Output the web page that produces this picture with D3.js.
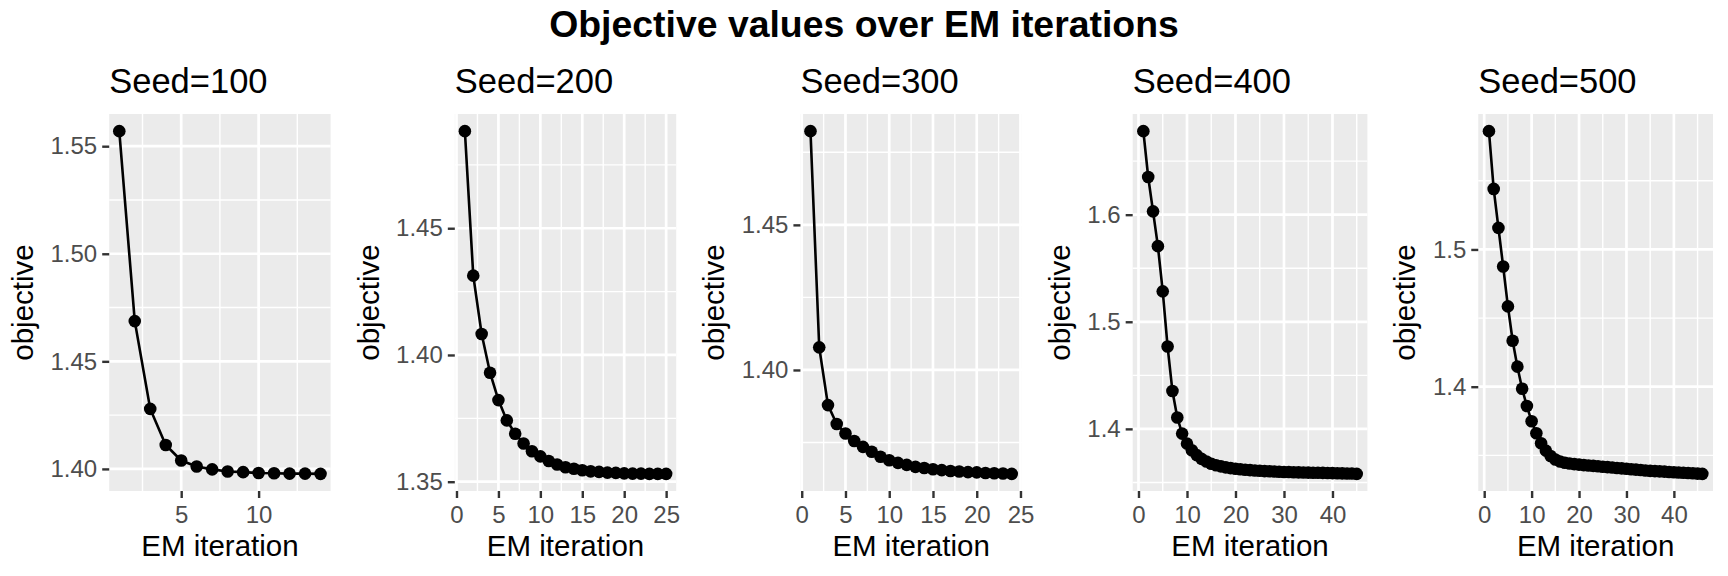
<!DOCTYPE html>
<html>
<head>
<meta charset="utf-8">
<script src="https://cdn.jsdelivr.net/npm/d3@7"></script>
<style>
  body { margin: 0; background: #fff; }
  text { font-family: "Liberation Sans", Arial, Helvetica, sans-serif; }
</style>
</head>
<body>
<script>
// panel titles
const seedTitles = ["Seed=100", "Seed=200", "Seed=300", "Seed=400", "Seed=500"];

// objective per EM iteration (iteration = index + 1)
const obj100 = [1.5570, 1.4687, 1.4279, 1.4111, 1.4039, 1.4011, 1.3998, 1.3988, 1.3985, 1.3981,
  1.3980, 1.3978, 1.3978, 1.3977];
const obj200 = [1.4883, 1.4313, 1.4083, 1.3930, 1.3822, 1.3742, 1.3689, 1.3651, 1.3620, 1.3600,
  1.3582, 1.3568, 1.3557, 1.3551, 1.3545, 1.3541, 1.3539, 1.3536, 1.3535, 1.3533,
  1.3532, 1.3532, 1.3531, 1.3531, 1.3531];
const obj300 = [1.4823, 1.4078, 1.3879, 1.3814, 1.3781, 1.3755, 1.3735, 1.3718, 1.3701, 1.3689,
  1.3680, 1.3673, 1.3666, 1.3662, 1.3658, 1.3655, 1.3652, 1.3650, 1.3648, 1.3647,
  1.3645, 1.3644, 1.3643, 1.3642];
const obj400 = [1.6780, 1.6352, 1.6031, 1.5706, 1.5284, 1.4769, 1.4353, 1.4106, 1.3956, 1.3862,
  1.3800, 1.3755, 1.3720, 1.3695, 1.3675, 1.3660, 1.3650, 1.3641, 1.3634, 1.3628,
  1.3623, 1.3619, 1.3615, 1.3612, 1.3609, 1.3606, 1.3604, 1.3602, 1.3600, 1.3598,
  1.3597, 1.3595, 1.3594, 1.3593, 1.3592, 1.3591, 1.3590, 1.3589, 1.3588, 1.3587,
  1.3586, 1.3585, 1.3584, 1.3584, 1.3580];
const obj500 = [1.5862, 1.5441, 1.5157, 1.4876, 1.4585, 1.4335, 1.4146, 1.3985, 1.3859, 1.3748,
  1.3661, 1.3588, 1.3534, 1.3495, 1.3470, 1.3455, 1.3446, 1.3440, 1.3436, 1.3432,
  1.3429, 1.3426, 1.3423, 1.3420, 1.3417, 1.3414, 1.3411, 1.3408, 1.3405, 1.3402,
  1.3399, 1.3396, 1.3393, 1.3390, 1.3387, 1.3385, 1.3383, 1.3381, 1.3379, 1.3377,
  1.3375, 1.3373, 1.3371, 1.3369, 1.3367, 1.3365];

// tick labels
const xTicks100 = [5, 10];
const xTicks200 = [0, 5, 10, 15, 20, 25];
const xTicks300 = [0, 5, 10, 15, 20, 25];
const xTicks400 = [0, 10, 20, 30, 40];
const xTicks500 = [0, 10, 20, 30, 40];
const yTicks100 = [1.40, 1.45, 1.50, 1.55];
const yTicks200 = [1.35, 1.40, 1.45];
const yTicks300 = [1.40, 1.45];
const yTicks400 = [1.4, 1.5, 1.6];
const yTicks500 = [1.4, 1.5];
const yDigits = [2, 2, 2, 1, 1];

const series = [obj100, obj200, obj300, obj400, obj500];
const xTicksAll = [xTicks100, xTicks200, xTicks300, xTicks400, xTicks500];
const yTicksAll = [yTicks100, yTicks200, yTicks300, yTicks400, yTicks500];

const width = 1728, height = 576;
const cellW = width / 5;
const panelTop = 114, panelBottom = 491;
const tickLen = 7, tickPad = 5;
const tickFont = 24, axisTitleFont = 29.5, panelTitleFont = 34.5, mainFont = 37.4;

const svg = d3.select("body").append("svg")
    .attr("width", width)
    .attr("height", height);

// main title
svg.append("text")
    .attr("x", width / 2)
    .attr("y", 37)
    .attr("text-anchor", "middle")
    .style("font-size", mainFont + "px")
    .style("font-weight", "bold")
    .text("Objective values over EM iterations");

// ggplot-style 5% expansion
function expand(lo, hi) {
    const pad = (hi - lo) * 0.05;
    return [lo - pad, hi + pad];
}

// midpoints between majors (plus one step outside each end), kept inside the domain
function minorBreaks(ticks, domain) {
    const step = ticks.length > 1 ? ticks[1] - ticks[0] : 0.05;
    const out = [];
    for (let v = ticks[0] - step / 2; v <= domain[1]; v += step) {
        if (v >= domain[0]) out.push(v);
    }
    return out;
}

function textWidth(str, size) {
    const t = svg.append("text").style("font-size", size + "px").text(str);
    const w = t.node().getComputedTextLength();
    t.remove();
    return w;
}

series.forEach((vals, i) => {
    const data = vals.map((v, k) => ({ iter: k + 1, value: v }));
    const fmt = d3.format("." + yDigits[i] + "f");
    const yTicks = yTicksAll[i];
    const xTicks = xTicksAll[i];

    const cellLeft = i * cellW;
    const labelW = d3.max(yTicks, t => textWidth(fmt(t), tickFont));
    const left = cellLeft + 50.5 + labelW + tickLen + tickPad;
    const right = cellLeft + cellW - 15;

    const x = d3.scaleLinear()
        .domain(expand(1, data.length))
        .range([left, right]);
    const y = d3.scaleLinear()
        .domain(expand(d3.min(vals), d3.max(vals)))
        .range([panelBottom, panelTop]);

    const g = svg.append("g").attr("class", "panel");

    g.append("rect")
        .attr("x", left)
        .attr("y", panelTop)
        .attr("width", right - left)
        .attr("height", panelBottom - panelTop)
        .attr("fill", "#EBEBEB");

    // minor grid
    g.selectAll(".minor-x")
        .data(minorBreaks(xTicks, x.domain()))
        .enter().append("line")
        .attr("x1", d => x(d)).attr("x2", d => x(d))
        .attr("y1", panelTop).attr("y2", panelBottom)
        .attr("stroke", "#fff").attr("stroke-width", 1.4);
    g.selectAll(".minor-y")
        .data(minorBreaks(yTicks, y.domain()))
        .enter().append("line")
        .attr("x1", left).attr("x2", right)
        .attr("y1", d => y(d)).attr("y2", d => y(d))
        .attr("stroke", "#fff").attr("stroke-width", 1.4);

    // major grid
    g.selectAll(".major-x")
        .data(xTicks)
        .enter().append("line")
        .attr("x1", d => x(d)).attr("x2", d => x(d))
        .attr("y1", panelTop).attr("y2", panelBottom)
        .attr("stroke", "#fff").attr("stroke-width", 2.7);
    g.selectAll(".major-y")
        .data(yTicks)
        .enter().append("line")
        .attr("x1", left).attr("x2", right)
        .attr("y1", d => y(d)).attr("y2", d => y(d))
        .attr("stroke", "#fff").attr("stroke-width", 2.7);

    // axes
    const xAxis = g.append("g")
        .attr("transform", `translate(0,${panelBottom})`)
        .call(d3.axisBottom(x).tickValues(xTicks).tickFormat(d3.format("d"))
            .tickSize(tickLen).tickPadding(8));
    const yAxis = g.append("g")
        .attr("transform", `translate(${left},0)`)
        .call(d3.axisLeft(y).tickValues(yTicks).tickFormat(fmt)
            .tickSize(tickLen).tickPadding(tickPad));

    [xAxis, yAxis].forEach(ax => {
        ax.select(".domain").remove();
        ax.selectAll(".tick line").attr("stroke", "#333").attr("stroke-width", 2.4);
        ax.selectAll(".tick text")
            .attr("fill", "#4D4D4D")
            .style("font-size", tickFont + "px")
            .style("font-family", "'Liberation Sans', Arial, sans-serif");
    });

    // line and points
    g.append("path")
        .datum(data)
        .attr("fill", "none")
        .attr("stroke", "#000")
        .attr("stroke-width", 2.6)
        .attr("d", d3.line().x(d => x(d.iter)).y(d => y(d.value)));

    g.selectAll(".pt")
        .data(data)
        .enter().append("circle")
        .attr("cx", d => x(d.iter))
        .attr("cy", d => y(d.value))
        .attr("r", 6.3)
        .attr("fill", "#000");

    // titles
    g.append("text")
        .attr("x", left)
        .attr("y", 92.7)
        .style("font-size", panelTitleFont + "px")
        .text(seedTitles[i]);

    g.append("text")
        .attr("x", (left + right) / 2)
        .attr("y", 556)
        .attr("text-anchor", "middle")
        .style("font-size", axisTitleFont + "px")
        .text("EM iteration");

    g.append("text")
        .attr("transform", `translate(${cellLeft + 33},${(panelTop + panelBottom) / 2}) rotate(-90)`)
        .attr("text-anchor", "middle")
        .style("font-size", axisTitleFont + "px")
        .text("objective");
});
</script>
</body>
</html>
